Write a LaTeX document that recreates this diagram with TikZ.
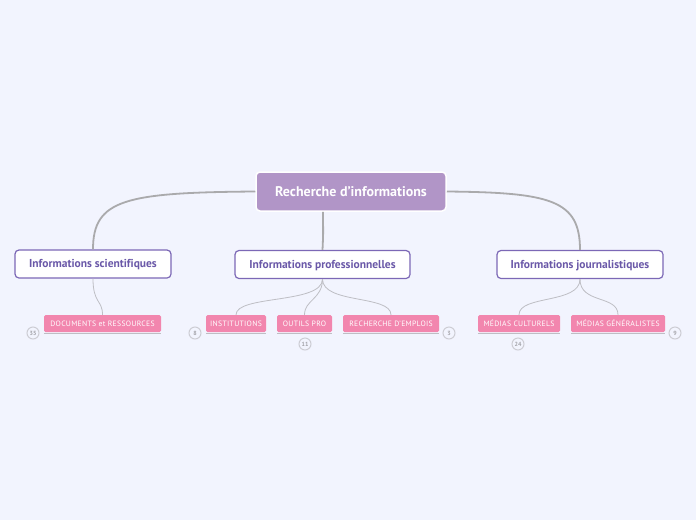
\documentclass[tikz,border=0pt]{standalone}
\usepackage{fontspec}
\setmainfont[Ligatures=NoCommon]{PT Sans}
\definecolor{bg}{RGB}{242,244,254}
\definecolor{rootfill}{RGB}{177,149,199}
\definecolor{purp}{RGB}{124,104,182}
\definecolor{purptext}{RGB}{106,88,168}
\definecolor{pink}{RGB}{242,134,174}
\definecolor{mainline}{RGB}{170,170,172}
\definecolor{thinline}{RGB}{190,190,196}
\definecolor{countc}{RGB}{205,205,212}
\tikzset{
  rootbox/.style={draw=white, line width=1.5pt, fill=rootfill, rounded corners=4pt,
    minimum height=39pt, inner sep=0pt, text=white, font=\fontsize{14}{16}\selectfont\bfseries},
  topic/.style={draw=purp, line width=1.2pt, fill=white, rounded corners=4pt,
    minimum height=28pt, inner sep=0pt, text=purptext, text height=9pt, text depth=2pt,
    font=\fontsize{11.5}{13}\selectfont\bfseries},
  leaf/.style={fill=pink, rounded corners=1.5pt, minimum height=17pt, inner sep=0pt,
    text=white, font=\fontsize{7.7}{9}\selectfont\addfontfeature{LetterSpace=4}},
  count/.style={draw=countc, line width=1pt, circle, minimum size=12pt, inner sep=0pt,
    text=countc!80!black, font=\fontsize{6}{7}\selectfont\bfseries},
  thick link/.style={draw=mainline, line width=1.8pt},
  thin link/.style={draw=thinline, line width=0.8pt},
  uline/.style={draw=thinline, line width=0.9pt}
}
\begin{document}
\begin{tikzpicture}[x=1pt,y=-1pt]
\useasboundingbox[fill=bg] (0,0) rectangle (696,520);
% root and topics
\node[rootbox, minimum width=190pt] (root) at (351,191.5) {Recherche d'informations};
\node[topic, minimum width=156pt] (sci) at (93,264) {Informations scientifiques};
\node[topic, minimum width=175pt] (pro) at (322.5,264.5) {Informations professionnelles};
\node[topic, minimum width=166pt] (jour) at (580,264.5) {Informations journalistiques};
% leaves
\node[leaf, minimum width=117pt] (doc) at (102.5,323.5) {DOCUMENTS et RESSOURCES};
\node[leaf, minimum width=60pt] (inst) at (236,323.5) {INSTITUTIONS};
\node[leaf, minimum width=55pt] (outil) at (304.5,323.5) {OUTILS PRO};
\node[leaf, minimum width=96pt] (rech) at (391,323.5) {RECHERCHE D'EMPLOIS};
\node[leaf, minimum width=82pt] (cult) at (519,323.5) {MÉDIAS CULTURELS};
\node[leaf, minimum width=94pt] (gen) at (618,323.5) {MÉDIAS GÉNÉRALISTES};
% counts
\node[count] (c1) at (33,333) {35};
\node[count] (c2) at (195,333) {8};
\node[count] (c3) at (305,344) {11};
\node[count] (c4) at (449,333) {3};
\node[count] (c5) at (518,344) {24};
\node[count] (c6) at (675,333) {9};
% underlines
\foreach \n in {doc,inst,outil,rech,cult,gen}
  \draw[uline] ([yshift=-1pt]\n.south west) -- ([yshift=-1pt]\n.south east);
% main links
\path[thick link] (root.west) .. controls +(-130,1) and +(0,-50) .. (sci.north);
\path[thick link] (root.east) .. controls +(104,1) and +(0,-50) .. (jour.north);
\path[thick link] (root.south) ++(-28,0) coordinate (rs) .. controls +(0,20) and +(1,-20) .. (pro.north);
% thin links
\path[thin link] (sci.south) .. controls +(0,25) and +(0,-15) .. (doc.north);
\path[thin link] (pro.south) .. controls +(0,25) and +(0,-20) .. (inst.north);
\path[thin link] (pro.south) .. controls +(0,20) and +(0,-15) .. (outil.north);
\path[thin link] (pro.south) .. controls +(0,25) and +(0,-20) .. (rech.north);
\path[thin link] (jour.south) .. controls +(0,25) and +(0,-20) .. (cult.north);
\path[thin link] (jour.south) .. controls +(0,25) and +(0,-20) .. (gen.north);
\end{tikzpicture}
\end{document}
